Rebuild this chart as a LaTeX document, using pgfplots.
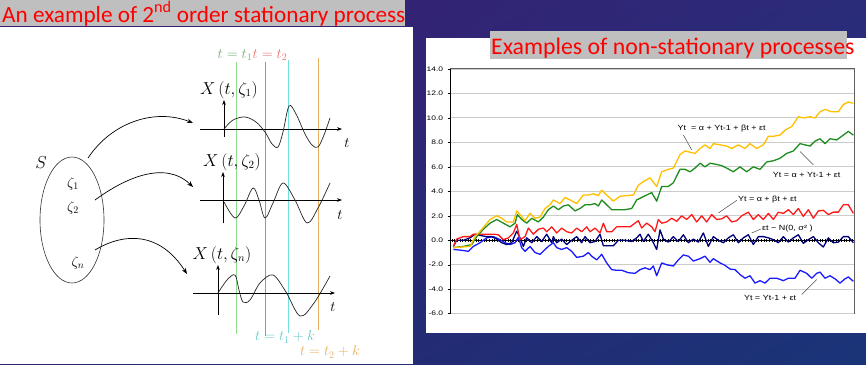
\documentclass[border=0pt]{standalone}
\usepackage{pgfplots}
\pgfplotsset{compat=1.18}
\usepackage{fontspec}
\setmainfont{Liberation Sans}
\newfontfamily\carlito{Carlito}
\usetikzlibrary{arrows.meta,shadings}
\definecolor{bgTL}{HTML}{3C1A6E}
\definecolor{bgTR}{HTML}{2A2C7A}
\definecolor{bgBL}{HTML}{2A2472}
\definecolor{bgBR}{HTML}{1A3478}
\definecolor{titlegray}{HTML}{BFBFBF}
\definecolor{vgreen}{HTML}{8EDC8E}
\definecolor{vred}{HTML}{EE7070}
\definecolor{vcyan}{HTML}{70E0E0}
\definecolor{vorange}{HTML}{E8B060}
\definecolor{sYellow}{HTML}{FFC000}
\definecolor{sGreen}{HTML}{1E8C1E}
\definecolor{sRed}{HTML}{FF1A1A}
\definecolor{sNavy}{HTML}{00007A}
\definecolor{sBlue}{HTML}{1A1AFF}
\begin{document}
\begin{tikzpicture}
% ---------- canvas (pixel coordinates, y downward) ----------
\begin{axis}[at={(0pt,0pt)}, anchor=south west, scale only axis,
  width=866pt, height=364pt, xmin=0, xmax=866, ymin=0, ymax=364,
  y dir=reverse, hide axis, clip=false]
\shade[upper left=bgTL, upper right=bgTR, lower left=bgBL, lower right=bgBR] (0,0) rectangle (866,364);
% left panel
\fill[white] (0,27) rectangle (413,364);
\fill[titlegray] (0,0) rectangle (405,26);
\node[anchor=base west, inner sep=0pt, text=red, font=\carlito\fontsize{23.2}{23.2}\selectfont] at (2,22) {An example of 2\textsuperscript{nd} order stationary process};
% right panel
\fill[white] (426,38) rectangle (866,333);
\fill[titlegray] (490,31) rectangle (847,59);
\node[anchor=base west, inner sep=0pt, text=red, font=\carlito\fontsize{23.8}{23.8}\selectfont] at (491,54) {Examples of non-stationary processes};
% sample space
\draw[line width=0.6pt, black!80] (72,220) ellipse [x radius=32pt, y radius=63pt];
\node[font=\fontsize{19}{19}\selectfont] at (41,163) {$S$};
\node[font=\fontsize{14}{14}\selectfont] at (73,184) {$\zeta_1$};
\node[font=\fontsize{14}{14}\selectfont] at (73,208) {$\zeta_2$};
\node[font=\fontsize{14}{14}\selectfont] at (78,263) {$\zeta_n$};
\draw[line width=0.7pt, -{Stealth[length=6pt]}] (88,158) .. controls (112,122) and (155,108) .. (193,123);
\draw[line width=0.7pt, -{Stealth[length=6pt]}] (95,200) .. controls (125,178) and (165,160) .. (193,187);
\draw[line width=0.7pt, -{Stealth[length=6pt]}] (95,250) .. controls (125,232) and (160,232) .. (187,274);
% vertical time lines
\draw[vgreen, line width=0.8pt] (236,62) -- (236,334);
\draw[vred, line width=0.8pt] (265,62) -- (265,336);
\draw[vcyan, line width=0.8pt] (288,60) -- (288,333);
\draw[vorange, line width=0.8pt] (318,58) -- (318,330);
\node[text=vgreen!80!black, font=\fontsize{14}{14}\selectfont] at (235,55) {$t=t_1$};
\node[text=vred, font=\fontsize{14}{14}\selectfont] at (270,55) {$t=t_2$};
\node[text=vcyan!90!black, font=\fontsize{14}{14}\selectfont] at (285,337) {$t=t_1+k$};
\node[text=vorange, font=\fontsize{14}{14}\selectfont] at (330,352) {$t=t_2+k$};
% realisation axes
\draw[line width=0.8pt, -{Stealth[length=5pt]}] (200,129) -- (342,129);
\draw[line width=0.8pt, -{Stealth[length=5pt]}] (224,137) -- (224,100);
\draw[line width=0.8pt, -{Stealth[length=5pt]}] (200,200) -- (342,200);
\draw[line width=0.8pt, -{Stealth[length=5pt]}] (223,223) -- (223,172);
\draw[line width=0.8pt, -{Stealth[length=5pt]}] (193,293) -- (335,293);
\draw[line width=0.8pt, -{Stealth[length=5pt]}] (218,315) -- (218,265);
\node[font=\fontsize{16}{16}\selectfont] at (229,90) {$X\left(t,\zeta_1\right)$};
\node[font=\fontsize{16}{16}\selectfont] at (232,162) {$X\left(t,\zeta_2\right)$};
\node[font=\fontsize{16}{16}\selectfont] at (222,255) {$X\left(t,\zeta_n\right)$};
\node[font=\fontsize{15}{15}\selectfont] at (347,143) {$t$};
\node[font=\fontsize{15}{15}\selectfont] at (340,215) {$t$};
\node[font=\fontsize{15}{15}\selectfont] at (333,307) {$t$};
\addplot[black!85, line width=0.7pt, smooth, tension=0.55] coordinates {(224,129) (233,120) (245,117) (256,122) (265,132) (272,144) (278,147) (283,132) (289,106) (296,114) (305,134) (312,145) (318,147) (324,135) (330,118)};
\addplot[black!85, line width=0.7pt, smooth, tension=0.55] coordinates {(224,202) (235,218) (244,206) (253,188) (259,200) (265,218) (273,203) (283,183) (295,200) (307,223) (318,208) (330,183)};
\addplot[black!85, line width=0.7pt, smooth, tension=0.55] coordinates {(218,293) (227,280) (235,275) (239,290) (243,302) (250,300) (260,283) (273,275) (286,292) (300,316) (314,303) (330,276)};
\end{axis}
% ---------- data chart ----------
\begin{axis}[at={(450.7pt,50.3pt)}, anchor=south west, scale only axis,
  width=403.3pt, height=244.7pt,
  xmin=92, xmax=1302, ymin=-6, ymax=14,
  axis x line*=middle, axis y line*=left,
  axis line style={black, line width=0.9pt},
  x axis line style={line width=1.1pt},
  axis background/.style={fill=white, draw=gray!75!black, line width=1pt},
  xtick distance=8, xticklabels={}, major tick length=3pt,
  xtick align=center, ytick align=outside,
  ytick={-6,-4,...,14},
  ymajorgrids, grid style={gray!40, line width=0.9pt},
  tick style={black, line width=0.5pt},
  /pgf/number format/assume math mode=true,
  yticklabel style={font=\fontsize{6.5}{6.5}\selectfont, xscale=1.3,
    /pgf/number format/fixed, /pgf/number format/fixed zerofill, /pgf/number format/precision=1},
  every axis plot/.append style={line width=1.3pt, line join=round},
]
% Yt = Yt-1 + et
\addplot[sBlue] coordinates {(100,-0.75) (120,-0.8) (145,-0.9) (160,-0.5) (180,-0.2) (200,0.2) (220,0.3) (240,0.05) (255,-0.2) (270,-0.35) (285,-0.2) (295,0.25) (305,-0.6) (315,-0.9) (330,-0.5) (345,-1.0) (360,-1.15) (375,-0.75) (385,-0.5) (400,-0.2) (410,-0.6) (425,-0.75) (440,-0.6) (455,-0.9) (470,-1.4) (490,-1.3) (505,-1.0) (515,-1.3) (530,-1.6) (545,-1.15) (560,-1.85) (575,-2.4) (590,-2.45) (605,-2.45) (625,-2.65) (645,-2.7) (660,-2.4) (675,-2.25) (690,-2.4) (700,-2.1) (710,-2.9) (725,-1.85) (740,-2.0) (760,-2.1) (775,-1.6) (790,-1.2) (805,-1.3) (820,-1.7) (840,-1.5) (855,-1.3) (870,-1.8) (880,-1.5) (900,-1.85) (915,-2.05) (930,-2.35) (945,-2.4) (960,-2.8) (975,-3.1) (990,-2.9) (1005,-3.5) (1020,-3.3) (1035,-3.5) (1050,-3.1) (1070,-3.1) (1090,-3.3) (1105,-3.1) (1125,-3.1) (1140,-2.45) (1160,-2.7) (1175,-3.1) (1190,-2.7) (1200,-2.6) (1215,-3.1) (1230,-2.9) (1245,-3.15) (1260,-3.5) (1275,-3.15) (1285,-3.0) (1300,-3.35)};
% et ~ N(0, s^2)
\addplot[sNavy] coordinates {(100,-0.5) (110,0) (130,0) (150,0.2) (165,0.5) (180,0.4) (200,0.3) (215,0.3) (230,0.1) (245,-0.2) (260,-0.35) (275,-0.2) (290,0.75) (300,0.2) (310,-0.5) (320,0.2) (335,-0.2) (350,0.3) (365,-0.1) (380,0.5) (395,-0.2) (400,0.3) (410,-0.2) (425,0.1) (440,-0.35) (455,0) (470,0.3) (485,-0.2) (495,0.3) (510,-0.2) (525,-0.1) (540,0.5) (550,-0.45) (565,-0.45) (580,-0.45) (595,0) (615,0) (635,-0.1) (650,0.2) (660,0.5) (670,-0.1) (685,0.5) (700,-0.2) (710,-0.75) (720,0.85) (730,0.1) (745,-0.15) (760,0.3) (775,-0.1) (790,0.45) (805,-0.2) (820,0.1) (835,-0.15) (850,0.6) (865,-0.5) (880,0.3) (895,0) (910,-0.2) (925,0.2) (940,0.45) (955,-0.2) (970,0.2) (985,0.45) (1000,-0.35) (1015,0.3) (1030,0.3) (1045,0.2) (1060,0.05) (1075,-0.2) (1090,0.3) (1105,-0.15) (1120,0.2) (1135,0.45) (1150,-0.25) (1165,0.05) (1180,0.3) (1195,-0.2) (1210,-0.55) (1225,0.2) (1240,-0.2) (1255,-0.15) (1270,0.3) (1285,0.3) (1300,-0.2)};
% Yt = a + bt + et
\addplot[sRed] coordinates {(100,-0.5) (110,0.1) (130,0.3) (150,0.3) (160,0.5) (180,0.5) (200,0.5) (220,0.5) (235,0.45) (250,0.05) (265,0.2) (280,0.6) (290,1.3) (300,0.05) (315,0.3) (325,1.0) (340,0.5) (355,0.9) (370,1.0) (380,0.7) (395,1.1) (410,0.6) (425,1.0) (440,0.7) (455,0.6) (470,1.0) (485,0.7) (500,1.1) (510,0.7) (525,1.0) (540,0.6) (550,1.4) (560,0.7) (575,0.7) (590,1.1) (610,1.1) (630,1.1) (645,1.4) (655,1.6) (665,1.0) (680,1.4) (695,1.1) (705,0.7) (715,1.7) (725,1.4) (740,1.5) (755,1.8) (770,1.55) (785,2.0) (800,1.7) (815,2.1) (830,1.5) (845,2.0) (860,1.5) (875,2.1) (890,1.7) (905,1.75) (920,2.0) (935,1.5) (950,1.6) (965,2.0) (985,2.3) (1000,1.7) (1015,2.1) (1030,1.7) (1045,2.2) (1060,1.7) (1075,2.3) (1090,2.2) (1105,2.5) (1120,2.1) (1135,2.6) (1150,1.95) (1165,2.5) (1180,1.8) (1195,2.4) (1210,2.45) (1225,2.1) (1240,2.3) (1255,2.3) (1270,2.9) (1285,2.9) (1300,2.2)};
% Yt = a + Yt-1 + et
\addplot[sGreen] coordinates {(100,-0.6) (130,-0.5) (155,-0.35) (170,0.3) (190,0.9) (210,1.4) (230,1.7) (250,1.4) (270,1.1) (285,1.4) (292,2.1) (305,1.7) (320,1.4) (335,1.8) (355,1.5) (370,1.9) (385,2.5) (400,2.8) (415,2.5) (430,2.8) (445,2.9) (465,2.4) (480,2.6) (495,2.9) (510,2.9) (525,3.0) (535,2.8) (545,3.3) (560,2.9) (575,2.5) (595,2.5) (615,2.5) (635,2.6) (650,3.3) (665,3.5) (680,3.7) (695,3.9) (710,3.2) (725,4.4) (745,4.4) (760,4.7) (780,5.8) (795,5.8) (810,5.6) (825,5.9) (840,6.3) (855,6.0) (870,6.3) (890,6.2) (905,6.1) (920,5.9) (940,5.6) (960,6.0) (980,5.6) (1000,6.0) (1020,5.8) (1040,6.4) (1060,6.5) (1080,6.7) (1100,7.1) (1120,7.3) (1140,7.9) (1155,7.8) (1170,7.7) (1185,8.1) (1200,8.3) (1215,7.9) (1230,8.3) (1250,8.2) (1265,8.5) (1285,8.9) (1300,8.6)};
% Yt = a + Yt-1 + bt + et
\addplot[sYellow] coordinates {(100,-0.6) (150,-0.5) (165,0.3) (185,0.9) (210,1.7) (230,2.0) (245,1.8) (260,1.5) (280,1.5) (290,2.4) (300,2.1) (315,1.6) (330,2.2) (345,1.8) (360,1.9) (375,2.6) (390,2.9) (400,3.3) (420,3.0) (435,3.5) (450,3.3) (470,3.0) (490,3.7) (505,3.7) (520,3.8) (535,3.65) (545,4.1) (560,3.7) (580,3.2) (600,3.6) (620,3.65) (640,3.7) (655,4.5) (670,4.8) (690,5.1) (710,4.4) (725,5.6) (745,5.8) (760,5.9) (780,7.0) (795,7.3) (810,7.2) (825,7.1) (840,7.5) (855,7.8) (870,7.5) (880,7.9) (900,7.8) (920,7.7) (935,7.5) (955,7.8) (975,7.5) (990,7.9) (1010,7.5) (1030,7.8) (1045,8.5) (1060,8.5) (1080,8.6) (1095,9.0) (1115,9.3) (1135,10.1) (1150,10.0) (1170,10.1) (1185,10.0) (1200,10.5) (1215,10.7) (1235,10.5) (1255,10.5) (1270,11.1) (1285,11.3) (1300,11.2)};
% annotations
\draw[black!70, line width=0.5pt] (axis cs:790,8.61) -- (axis cs:815,7.39);
\draw[black!70, line width=0.5pt] (axis cs:1140,7.26) -- (axis cs:1180,6.17);
\draw[black!70, line width=0.5pt] (axis cs:950,3.26) -- (axis cs:895,2.23);
\draw[black!70, line width=0.5pt] (axis cs:1025,0.95) -- (axis cs:995,0.6);
\draw[black!70, line width=0.5pt] (axis cs:1145,-4.43) -- (axis cs:1190,-3.21);
\node[font=\fontsize{7.5}{7.5}\selectfont, xscale=1.2, inner sep=1pt] at (axis cs:905,9.16) {Yt \ = α + Yt-1 + βt + εt};
\node[font=\fontsize{7.5}{7.5}\selectfont, xscale=1.2, inner sep=1pt] at (axis cs:1160,5.35) {Yt = α + Yt-1 + εt};
\node[font=\fontsize{7.5}{7.5}\selectfont, xscale=1.2, inner sep=1pt] at (axis cs:1042,3.32) {Yt = α + βt + εt};
\node[font=\fontsize{7.5}{7.5}\selectfont, xscale=1.2, inner sep=1pt, fill=white] at (axis cs:1102,0.95) {εt \textasciitilde\ N(0, σ² )};
\node[font=\fontsize{7.5}{7.5}\selectfont, xscale=1.2, inner sep=1pt] at (axis cs:1050,-4.70) {Yt = Yt-1 + εt};
\end{axis}
\end{tikzpicture}
\end{document}
